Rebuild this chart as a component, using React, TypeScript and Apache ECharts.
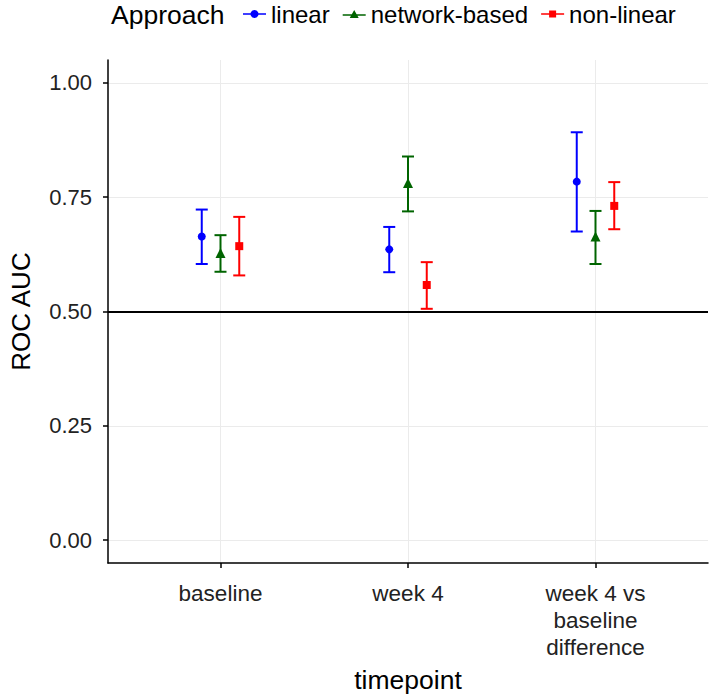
import React, { useEffect, useRef } from "react";
import * as echarts from "echarts";

const categories = ["baseline", "week 4", "week 4 vs\nbaseline\ndifference"];
const approaches = ["linear", "network-based", "non-linear"];
const yTicks = [0, 0.25, 0.5, 0.75, 1];

const linearAUC = [0.664, 0.636, 0.784];
const linearLow = [0.604, 0.586, 0.675];
const linearHigh = [0.723, 0.685, 0.892];

const networkAUC = [0.628, 0.781, 0.664];
const networkLow = [0.587, 0.719, 0.604];
const networkHigh = [0.667, 0.839, 0.72];

const nonlinearAUC = [0.643, 0.558, 0.731];
const nonlinearLow = [0.579, 0.506, 0.68];
const nonlinearHigh = [0.707, 0.608, 0.783];

const referenceLine = 0.5;

const FONT = "Liberation Sans, Arial, Helvetica, sans-serif";
const COLORS = ["#0000ff", "#006400", "#ff0000"];
const SYMBOLS = ["circle", "triangle", "rect"];
const SYMBOL_SIZES = [8, 10, 8];
const DODGE = [-0.1, 0, 0.1];
const LEGEND_ICONS = [
  "path://M0,3.2h23v1.6H0z M11.5,0 A4,4 0 1,1 11.49,0z",
  "path://M0,4.2h23v1.6H0z M11.5,0 L16,8 L7,8z",
  "path://M0,3.2h23v1.6H0z M8,0.5 h7 v7 h-7z",
];

export default function App() {
  const ref = useRef<HTMLDivElement>(null);
  useEffect(() => {
    document.body.style.margin = "0";
    if (!ref.current) return;
    const chart = echarts.init(ref.current, undefined, { renderer: "svg" });
    const mids = [linearAUC, networkAUC, nonlinearAUC];
    const lows = [linearLow, networkLow, nonlinearLow];
    const highs = [linearHigh, networkHigh, nonlinearHigh];

    const series: any[] = [];
    series.push({
      type: "line",
      name: "__grid",
      data: [],
      z: 0,
      silent: true,
      markLine: {
        silent: true,
        symbol: "none",
        animation: false,
        label: { show: false },
        lineStyle: { color: "#ebebeb", width: 1, type: "solid" },
        z: 0,
        data: [
          ...categories.map((_, i) => ({ xAxis: i + 1 })),
          ...yTicks.map((v) => ({ yAxis: v })),
        ],
      },
    });
    series.push({
      type: "line",
      name: "__ref",
      data: [],
      z: 1,
      silent: true,
      markLine: {
        silent: true,
        symbol: "none",
        animation: false,
        label: { show: false },
        lineStyle: { color: "#000", width: 2, type: "solid" },
        data: [{ yAxis: referenceLine }],
      },
    });
    approaches.forEach((name, k) => {
      series.push({
        type: "scatter",
        name,
        symbol: SYMBOLS[k],
        symbolSize: SYMBOL_SIZES[k],
        itemStyle: { color: COLORS[k], opacity: 1 },
        z: 4,
        data: mids[k].map((v, i) => [i + 1 + DODGE[k], v]),
      });
    });
    approaches.forEach((name, k) => {
      const color = COLORS[k];
      series.push({
        type: "custom",
        name,
        z: 3,
        itemStyle: { color },
        encode: { x: 0, y: [1, 2] },
        data: lows[k].map((lo, i) => [i + 1 + DODGE[k], lo, highs[k][i]]),
        renderItem: (params: any, api: any) => {
          const x = api.value(0);
          const top = api.coord([x, api.value(2)]);
          const bot = api.coord([x, api.value(1)]);
          const hw = 6;
          const st = { stroke: color, lineWidth: 2 };
          return {
            type: "group",
            children: [
              { type: "line", shape: { x1: top[0], y1: top[1], x2: bot[0], y2: bot[1] }, style: st },
              { type: "line", shape: { x1: top[0] - hw, y1: top[1], x2: top[0] + hw, y2: top[1] }, style: st },
              { type: "line", shape: { x1: bot[0] - hw, y1: bot[1], x2: bot[0] + hw, y2: bot[1] }, style: st },
            ],
          };
        },
      });
    });

    chart.setOption({
      animation: false,
      backgroundColor: "#ffffff",
      textStyle: { fontFamily: FONT },
      title: {
        text: "Approach",
        left: 111,
        top: 1,
        padding: 0,
        textStyle: { fontSize: 26.5, fontWeight: "normal", color: "#000", fontFamily: FONT },
      },
      legend: {
        left: 243,
        top: 2,
        padding: 0,
        itemWidth: 23,
        itemHeight: 8,
        itemGap: 13,
        data: approaches.map((name, k) => ({ name, icon: LEGEND_ICONS[k] })),
        textStyle: { fontSize: 24, color: "#000", fontFamily: FONT },
      },
      grid: { left: 96, right: 1, top: 60, bottom: 130, containLabel: false },
      xAxis: {
        type: "value",
        min: 0.4,
        max: 3.6,
        name: "timepoint",
        nameLocation: "middle",
        nameGap: 102,
        nameTextStyle: { fontSize: 26.5, color: "#000", fontFamily: FONT },
        axisLine: { show: true, onZero: false, lineStyle: { color: "#000", width: 1.5 } },
        axisTick: { show: true, customValues: [1, 2, 3], length: 5, lineStyle: { color: "#000", width: 1.5 } },
        axisLabel: {
          show: true,
          customValues: [1, 2, 3],
          margin: 17,
          fontSize: 22.5,
          lineHeight: 27,
          color: "#222",
          fontFamily: FONT,
          formatter: (v: number) => categories[Math.round(v) - 1] ?? "",
        },
        splitLine: { show: false },
      },
      yAxis: {
        type: "value",
        min: -0.05,
        max: 1.05,
        name: "ROC AUC",
        nameLocation: "middle",
        nameGap: 74,
        nameTextStyle: { fontSize: 26, color: "#000", fontFamily: FONT },
        axisLine: { show: true, onZero: false, lineStyle: { color: "#000", width: 1.5 } },
        axisTick: { show: true, customValues: yTicks, length: 5, lineStyle: { color: "#000", width: 1.5 } },
        axisLabel: {
          show: true,
          customValues: yTicks,
          margin: 16,
          fontSize: 22,
          color: "#222",
          fontFamily: FONT,
          formatter: (v: number) => v.toFixed(2),
        },
        splitLine: { show: false },
      },
      series,
    });
    return () => chart.dispose();
  }, []);
  return <div ref={ref} style={{ width: 709, height: 698 }} />;
}
